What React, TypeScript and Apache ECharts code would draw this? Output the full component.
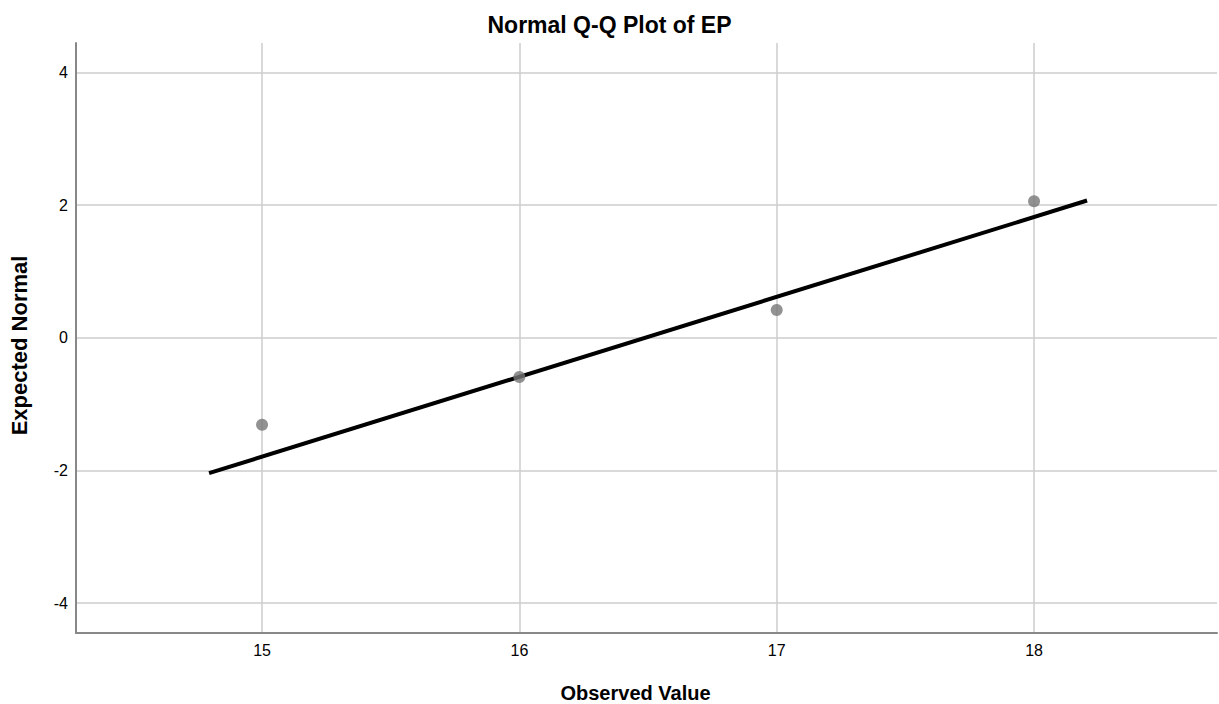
import React, { useEffect, useRef } from "react";
import * as echarts from "echarts";

const observedValues = [15, 16, 17, 18];
const expectedNormal = [-1.31, -0.59, 0.42, 2.06];
const lineX = [14.794, 18.206];
const lineY = [-2.04, 2.07];
const xTicks = [15, 16, 17, 18];
const yTicks = [-4, -2, 0, 2, 4];

export default function App() {
  const ref = useRef<HTMLDivElement>(null);
  useEffect(() => {
    if (!ref.current) return;
    const chart = echarts.init(ref.current, null, { renderer: "svg" });
    const font = "'Liberation Sans', Arial, sans-serif";
    chart.setOption({
      animation: false,
      backgroundColor: "#ffffff",
      textStyle: { fontFamily: font },
      title: {
        text: "Normal Q-Q Plot of EP",
        left: "center",
        top: 8,
        textStyle: { fontFamily: font, fontSize: 23, fontWeight: "bold", color: "#000" },
      },
      grid: { left: 76, right: 2, top: 43, bottom: 71, containLabel: false, outerBoundsMode: "none" },
      xAxis: {
        type: "value",
        min: 14.277,
        max: 18.711,
        name: "Observed Value",
        nameLocation: "middle",
        nameGap: 50,
        nameTextStyle: { fontFamily: font, fontSize: 20, fontWeight: "bold", color: "#000", padding: [0, 22, 0, 0] },
        axisLine: { show: true, onZero: false, lineStyle: { color: "#888888", width: 2 } },
        axisTick: { show: false, customValues: xTicks },
        splitLine: { show: true, lineStyle: { color: "#cccccc", width: 1.5 } },
        axisLabel: {
          fontFamily: font,
          fontSize: 16,
          color: "#000",
          margin: 9,
          customValues: xTicks,
        },
      },
      yAxis: {
        type: "value",
        min: -4.45,
        max: 4.445,
        name: "Expected Normal",
        nameLocation: "middle",
        nameGap: 46,
        nameRotate: 90,
        nameTextStyle: { fontFamily: font, fontSize: 22, fontWeight: "bold", color: "#000", padding: [0, 15, 0, 0] },
        axisLine: { show: true, onZero: false, lineStyle: { color: "#888888", width: 2 } },
        axisTick: { show: false, customValues: yTicks },
        splitLine: { show: true, lineStyle: { color: "#cccccc", width: 1.5 } },
        axisLabel: {
          fontFamily: font,
          fontSize: 16,
          color: "#000",
          margin: 8,
          customValues: yTicks,
        },
      },
      series: [
        {
          type: "line",
          data: lineX.map((x, i) => [x, lineY[i]]),
          showSymbol: false,
          symbol: "none",
          lineStyle: { color: "#000000", width: 4 },
          z: 2,
        },
        {
          type: "scatter",
          data: observedValues.map((x, i) => [x, expectedNormal[i]]),
          symbol: "circle",
          symbolSize: 12,
          itemStyle: { color: "#777777" },
          z: 3,
        },
      ],
    });
    return () => chart.dispose();
  }, []);
  return <div ref={ref} style={{ width: 1219, height: 704, position: "absolute", left: 0, top: 0 }} />;
}
